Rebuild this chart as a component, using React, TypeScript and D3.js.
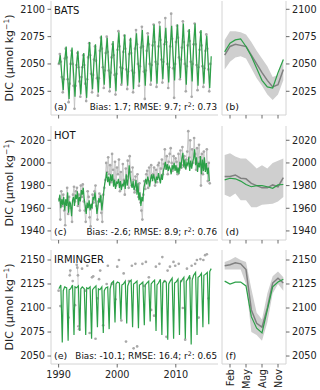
import React from 'react';
import * as d3 from 'd3';

// ---- data ----
// time series rows: one row per year starting 1990, values at the listed months
const batsModelMonths = [1, 4, 7, 10];
const batsModel = [
  [2050, 2058, 2040, 2026], [2052, 2066, 2038, 2018], [2050, 2065, 2042, 2020], [2048, 2062, 2040, 2022],
  [2046, 2060, 2036, 2019], [2054, 2070, 2045, 2027], [2053, 2068, 2043, 2024], [2060, 2076, 2050, 2031],
  [2058, 2074, 2049, 2028], [2055, 2071, 2047, 2025], [2062, 2079, 2052, 2032], [2060, 2077, 2050, 2030],
  [2058, 2074, 2049, 2027], [2062, 2078, 2054, 2033], [2063, 2081, 2052, 2030], [2061, 2076, 2053, 2034],
  [2066, 2086, 2055, 2032], [2064, 2085, 2058, 2036], [2066, 2083, 2056, 2033], [2065, 2085, 2057, 2035],
  [2068, 2086, 2059, 2037], [2064, 2087, 2055, 2031], [2066, 2082, 2056, 2034], [2067, 2087, 2054, 2030],
  [2062, 2081, 2052, 2032], [2060, 2076, 2050, 2028], [2057],
];
const batsObsMonths = [1, 3, 5, 7, 9, 11];
const batsObs = [
  [2050, 2059, 2052, 2038, 2024, 2036], [2055, 2064, 2056, 2036, 2015, 2032], [2050, 2062, 2050, 2030, 2009, 2030],
  [2049, 2060, 2047, 2034, 2020, 2038], [2047, 2058, 2049, 2032, 2016, 2036], [2056, 2069, 2058, 2041, 2024, 2040],
  [2054, 2066, 2053, 2037, 2021, 2037], [2062, 2074, 2064, 2047, 2028, 2044], [2060, 2075, 2061, 2044, 2025, 2042],
  [2056, 2068, 2058, 2040, 2022, 2041], [2063, 2080, 2066, 2047, 2031, 2046], [2061, 2076, 2064, 2045, 2027, 2043],
  [2059, 2072, 2060, 2044, 2024, 2042], [2064, 2081, 2068, 2050, 2030, 2048], [2065, 2084, 2066, 2043, 2018, 2044],
  [2062, 2078, 2068, 2050, 2031, 2049], [2067, 2086, 2070, 2052, 2029, 2050], [2066, 2088, 2072, 2054, 2033, 2052],
  [2068, 2092, 2070, 2050, 2028, 2047], [2066, 2096, 2073, 2046, 2019, 2050], [2070, 2085, 2074, 2056, 2036, 2054],
  [2065, 2089, 2070, 2050, 2025, 2048], [2067, 2080, 2071, 2052, 2020, 2050], [2068, 2087, 2068, 2049, 2026, 2047],
  [2063, 2079, 2067, 2048, 2029, 2046], [2062, 2077, 2064, 2045, 2025, 2050],
];

const hotModelMonths = [1, 3, 5, 7, 9, 11];
const hotModel = [
  [1966, 1972, 1960, 1968, 1963, 1970], [1958, 1968, 1962, 1974, 1956, 1966], [1964, 1953, 1967, 1970, 1962, 1972],
  [1968, 1975, 1963, 1970, 1966, 1976], [1972, 1978, 1968, 1962, 1955, 1965], [1960, 1967, 1958, 1964, 1960, 1970],
  [1968, 1974, 1965, 1955, 1962, 1969], [1965, 1972, 1958, 1966, 1975, 1982], [1986, 1992, 1983, 1988, 1980, 1990],
  [1984, 1990, 1979, 1985, 1977, 1983], [1982, 1986, 1978, 1984, 1976, 1981], [1980, 1985, 1977, 1990, 1980, 1986],
  [1998, 1988, 1982, 1978, 1984, 1976], [1979, 1985, 1972, 1982, 1967, 1974], [1962, 1970, 1966, 1978, 1982, 1986],
  [1981, 1988, 1984, 1979, 1986, 1990], [1984, 1990, 1986, 1982, 1988, 1985], [1991, 1986, 1982, 1990, 1985, 1993],
  [1996, 2001, 1994, 1999, 1993, 1997], [1995, 1990, 1998, 1994, 2000, 1993], [1998, 1991, 1996, 1990, 2001, 1995],
  [2004, 2009, 1996, 2003, 1994, 2000], [1998, 2005, 1993, 2002, 1995, 2001], [2004, 2012, 1998, 2005, 1992, 2000],
  [1996, 2006, 1990, 2003, 1993, 2005], [1992, 2000, 1990, 1996, 1984],
];
const hotObsMonths = [2, 4, 6, 8, 10, 12];
const hotObs = [
  [1968, 1950, 1975, 1962, 1972, 1958], [1945, 1966, 1978, 1955, 1970, 1962], [1960, 1948, 1972, 1979, 1966, 1975],
  [1978, 1962, 1972, 1958, 1980, 1970], [1981, 1966, 1958, 1948, 1962, 1975], [1970, 1952, 1944, 1960, 1972, 1965],
  [1975, 1980, 1962, 1950, 1966, 1973], [1970, 1956, 1948, 1972, 1978, 1985], [2000, 1992, 2005, 1990, 1998, 1983],
  [2008, 1994, 1985, 2001, 1980, 1996], [1990, 2003, 1975, 1992, 1980, 1999], [1985, 1972, 1995, 1988, 2002, 1978],
  [2006, 1992, 1980, 1996, 1985, 1974], [1988, 1976, 1990, 1970, 1982, 1965], [1958, 1950, 1972, 1984, 1977, 1990],
  [1993, 1978, 1996, 1984, 1998, 1987], [1990, 1996, 1980, 1994, 1983, 1998], [2000, 1986, 1995, 2003, 1990, 1999],
  [2012, 1995, 2006, 1990, 2001, 2008], [2013, 2000, 1993, 2006, 1997, 2004], [2001, 1990, 2008, 1994, 2011, 1996],
  [2014, 1998, 2006, 1996, 2003, 2010], [2028, 2005, 2020, 1998, 2012, 2000], [2022, 2008, 1994, 2013, 2000, 2016],
  [2005, 1980, 2008, 1990, 2010, 1995], [1998, 2012, 1984, 2000, 1982],
];

const irmModelMonths = [1, 5, 8, 10];
const irmModel = [
  [2120, 2124, 2064, 2118], [2122, 2121, 2066, 2119], [2120, 2124, 2072, 2122], [2121, 2123, 2076, 2120],
  [2122, 2120, 2072, 2121], [2120, 2122, 2068, 2119], [2121, 2123, 2080, 2120], [2119, 2122, 2074, 2118],
  [2121, 2122, 2078, 2120], [2126, 2128, 2085, 2125], [2127, 2126, 2088, 2124], [2125, 2128, 2084, 2123],
  [2127, 2129, 2080, 2125], [2126, 2128, 2079, 2124], [2125, 2127, 2082, 2124], [2126, 2128, 2086, 2125],
  [2127, 2129, 2076, 2124], [2126, 2130, 2072, 2126], [2128, 2127, 2067, 2125], [2128, 2131, 2068, 2126],
  [2127, 2130, 2072, 2127], [2129, 2132, 2068, 2128], [2130, 2134, 2062, 2129], [2134, 2137, 2072, 2132],
  [2133, 2136, 2080, 2134], [2135, 2137, 2083, 2138], [2141],
];
// sparse cruise samples: [decimal year, DIC]
const irmObs = [
  [1990.0, 2118], [1990.3, 2102], [1991.7, 2090], [1991.9, 2134], [1992.0, 2139], [1992.4, 2128], [1992.8, 2103],
  [1993.1, 2145], [1993.2, 2142], [1993.3, 2134], [1993.4, 2081], [1993.5, 2078], [1994.0, 2141], [1994.6, 2118],
  [1994.9, 2144], [1995.3, 2074], [1995.7, 2132], [1995.9, 2133], [1996.3, 2068], [1996.6, 2110], [1996.9, 2130],
  [1997.1, 2139], [1997.6, 2082], [1998.2, 2125], [1998.4, 2144], [1999.1, 2125], [1999.7, 2109], [2000.0, 2143],
  [2000.3, 2150], [2000.7, 2087], [2001.1, 2136], [2001.5, 2065], [2002.0, 2128], [2002.5, 2144], [2002.8, 2058],
  [2003.1, 2146], [2003.4, 2060], [2004.3, 2146], [2004.6, 2123], [2004.9, 2148], [2005.4, 2132], [2005.8, 2098],
  [2006.3, 2092], [2006.6, 2143], [2007.2, 2146], [2007.7, 2153], [2008.1, 2128], [2008.4, 2070], [2008.6, 2139],
  [2009.0, 2143], [2009.6, 2148], [2009.9, 2144], [2010.5, 2146], [2010.9, 2128], [2011.2, 2100], [2011.6, 2067],
  [2011.9, 2141], [2012.4, 2131], [2012.7, 2144], [2013.3, 2146], [2013.6, 2150], [2013.9, 2090], [2014.2, 2151],
  [2014.7, 2150], [2015.0, 2155], [2015.3, 2156], [2015.6, 2110],
];

// monthly climatologies, Jan..Dec
const batsClimModel = [2061, 2069, 2072, 2073, 2066, 2057, 2046, 2035, 2029, 2028, 2042, 2054];
const batsClimObs = [2058, 2066, 2068, 2067, 2066, 2058, 2050, 2042, 2035, 2029, 2031, 2045];
const batsClimLo = [2045, 2052, 2056, 2057, 2055, 2046, 2037, 2030, 2022, 2017, 2022, 2035];
const batsClimHi = [2072, 2080, 2080, 2079, 2077, 2070, 2062, 2055, 2048, 2038, 2040, 2055];

const hotClimModel = [1985, 1986.5, 1986, 1984, 1981, 1979, 1980, 1980, 1979, 1977.6, 1980.6, 1981];
const hotClimObs = [1988, 1988, 1989.4, 1986.5, 1986, 1982, 1980, 1978, 1978, 1980.6, 1979, 1987];
const hotClimLo = [1972, 1970, 1973, 1967, 1967, 1961, 1961, 1963, 1963.5, 1964, 1966, 1970];
const hotClimHi = [2007, 2008.5, 2005.6, 2004, 2004, 1999.7, 1995, 1998, 1995, 2000, 2002, 2004];

const irmClimModel = [2128, 2125, 2127, 2127, 2123, 2091, 2079, 2074, 2098, 2122, 2127, 2130];
const irmClimObs = [2144, 2145, 2147, 2146, 2140, 2098, 2084, 2080, 2100, 2126, 2131, 2126];
const irmClimLo = [2140, 2140, 2140, 2140, 2125, 2075, 2072, 2066, 2085, 2115, 2125, 2118];
const irmClimHi = [2148, 2150, 2153, 2150, 2148, 2120, 2095, 2088, 2115, 2133, 2138, 2132];

const siteNames = ['BATS', 'HOT', 'IRMINGER'];
const seriesLetters = ['(a)', '(c)', '(e)'];
const climLetters = ['(b)', '(d)', '(f)'];
const biasValues = ['1.7', '-2.6', '-10.1'];
const rmseValues = ['9.7', '8.9', '16.4'];
const r2Values = ['0.73', '0.76', '0.65'];
const yDomains = [[2003.3, 2107.6], [1932, 2032.6], [2041.7, 2160.4]];
const yTicks = [[2025, 2050, 2075, 2100], [1940, 1960, 1980, 2000, 2020], [2050, 2075, 2100, 2125, 2150]];
const yearTicks = [1990, 2000, 2010];
const monthTicks = [2, 5, 8, 11];
const monthLabels = ['Feb', 'May', 'Aug', 'Nov'];

// ---- helpers ----
type Pt = { t: number; v: number };
const fromRows = (rows: number[][], months: number[]): Pt[] =>
  rows.flatMap((row, i) => row.map((v, j) => ({ t: 1990 + i + (months[j] - 0.5) / 12, v })));

// split a series where sampling gaps are large (no line across gaps)
const splitGaps = (pts: Pt[], gap: number): Pt[][] => {
  const out: Pt[][] = [];
  let cur: Pt[] = [];
  pts.forEach((p, i) => {
    if (i > 0 && p.t - pts[i - 1].t > gap) { out.push(cur); cur = []; }
    cur.push(p);
  });
  if (cur.length) out.push(cur);
  return out;
};

const panels = [
  {
    model: fromRows(batsModel, batsModelMonths), obs: fromRows(batsObs, batsObsMonths), gap: 0.5,
    clim: { model: batsClimModel, obs: batsClimObs, lo: batsClimLo, hi: batsClimHi },
  },
  {
    model: fromRows(hotModel, hotModelMonths), obs: fromRows(hotObs, hotObsMonths), gap: 0.5,
    clim: { model: hotClimModel, obs: hotClimObs, lo: hotClimLo, hi: hotClimHi },
  },
  {
    model: fromRows(irmModel, irmModelMonths), obs: irmObs.map(([t, v]) => ({ t, v })), gap: 0.15,
    clim: { model: irmClimModel, obs: irmClimObs, lo: irmClimLo, hi: irmClimHi },
  },
];

const W = 320;
const H = 390;
const panelTops = [1, 126, 250];
const panelH = 114;
const green = '#2ca048';
const font = 'DejaVu Sans';

const x = d3.scaleLinear().domain([1988.7, 2017.2]).range([51, 218]);
const xm = d3.scaleLinear().domain([0.5, 12.5]).range([222, 286]);
const months = d3.range(1, 13);

export default function App() {
  return (
    <svg width={W} height={H} style={{ position: 'absolute', left: 0, top: 0, background: '#fff' }}
      fontFamily={font}>
      {panels.map((p, k) => {
        const top = panelTops[k];
        const bottom = top + panelH;
        const y = d3.scaleLinear().domain(yDomains[k]).range([bottom, top]);
        const line = d3.line<Pt>().x(d => x(d.t)).y(d => y(d.v));
        const mline = d3.line<number>().x((_, i) => xm(months[i])).y(d => y(d));
        const band = d3.area<number>()
          .x((_, i) => xm(months[i]))
          .y0((_, i) => y(p.clim.lo[i]))
          .y1(d => y(d));
        const last = k === panels.length - 1;
        return (
          <g key={k}>
            {/* spines */}
            <line x1={51} x2={51} y1={top} y2={bottom} stroke="#d4d4d4" />
            <line x1={51} x2={218} y1={bottom} y2={bottom} stroke="#d4d4d4" />
            <line x1={222} x2={222} y1={top} y2={bottom} stroke="#d4d4d4" />
            <line x1={286} x2={286} y1={top} y2={bottom} stroke="#d4d4d4" />
            <line x1={222} x2={286} y1={bottom} y2={bottom} stroke="#d4d4d4" />

            {/* y ticks left and right */}
            {yTicks[k].map(t => (
              <g key={t}>
                <line x1={47.5} x2={51} y1={y(t)} y2={y(t)} stroke="#444" strokeWidth={0.8} />
                <text x={45} y={y(t)} dy="0.35em" textAnchor="end" fontSize={9.7} fill="#222">{t}</text>
                <line x1={286} x2={289.5} y1={y(t)} y2={y(t)} stroke="#444" strokeWidth={0.8} />
                <text x={292} y={y(t)} dy="0.35em" fontSize={9.7} fill="#222">{t}</text>
              </g>
            ))}

            {/* x ticks */}
            {yearTicks.map(t => (
              <g key={t}>
                <line x1={x(t)} x2={x(t)} y1={bottom} y2={bottom + 3.5} stroke="#444" strokeWidth={0.8} />
                {last && <text x={x(t)} y={bottom + 13.5} textAnchor="middle" fontSize={9.7} fill="#222">{t}</text>}
              </g>
            ))}
            {monthTicks.map((m, i) => (
              <g key={m}>
                <line x1={xm(m)} x2={xm(m)} y1={bottom} y2={bottom + 3.5} stroke="#444" strokeWidth={0.8} />
                {last && (
                  <text transform={`translate(${xm(m) + 3.5},${bottom + 5})rotate(-90)`} textAnchor="end"
                    fontSize={9.7} fill="#222">{monthLabels[i]}</text>
                )}
              </g>
            ))}

            {/* y label */}
            <text transform={`translate(12.5,${top + panelH / 2})rotate(-90)`} textAnchor="middle"
              fontSize={11} fill="#222">
              DIC (µmol kg<tspan dy={-4} fontSize={7.5}>−1</tspan><tspan dy={4}>)</tspan>
            </text>

            {/* time series */}
            {splitGaps(p.obs, p.gap).map((seg, i) => (
              <path key={i} d={line(seg) ?? ''} fill="none" stroke="#bdbdbd" strokeWidth={0.8} />
            ))}
            {p.obs.map((d, i) => (
              <circle key={i} cx={x(d.t)} cy={y(d.v)} r={1.35} fill="#a9a9a9" />
            ))}
            <path d={line(p.model) ?? ''} fill="none" stroke={green} strokeWidth={1.2} />

            {/* climatology */}
            <path d={band(p.clim.hi) ?? ''} fill="#cfcfcf" />
            <path d={mline(p.clim.obs) ?? ''} fill="none" stroke="#808080" strokeWidth={1.5} />
            <path d={mline(p.clim.model) ?? ''} fill="none" stroke={green} strokeWidth={1.2} />

            {/* annotations */}
            <text x={54} y={top + 13} fontSize={10} fill="#111">{siteNames[k]}</text>
            <text x={54} y={bottom - 5} fontSize={9.5} fill="#111">{seriesLetters[k]}</text>
            <text x={225.5} y={bottom - 5} fontSize={9.5} fill="#111">{climLetters[k]}</text>
            <text x={217} y={bottom - 5} textAnchor="end" fontSize={8.8} fill="#111">
              Bias: {biasValues[k]}; RMSE: {rmseValues[k]}; r<tspan dy={-3.5} fontSize={6.2}>2</tspan>
              <tspan dy={3.5}>: {r2Values[k]}</tspan>
            </text>
          </g>
        );
      })}
    </svg>
  );
}
